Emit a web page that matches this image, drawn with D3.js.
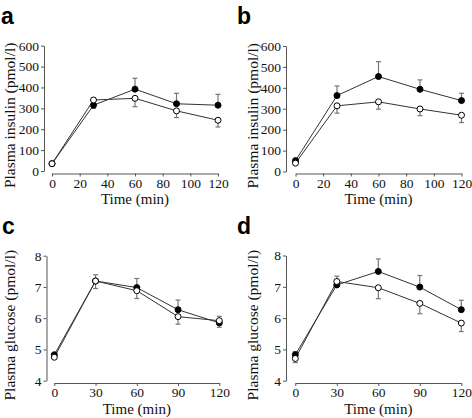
<!DOCTYPE html>
<html><head><meta charset="utf-8">
<script src="https://cdn.jsdelivr.net/npm/d3@7"></script>
<style>
body{margin:0;background:#fff}svg{display:block}
.serif{font-family:"Liberation Serif","Times New Roman",Times,serif}
.sans{font-family:"Liberation Sans",Arial,Helvetica,sans-serif}
</style>
</head><body>
<script>
// ---- data ----
const timesInsulin = [0, 30, 60, 90, 120];
const timesGlucose = [0, 30, 60, 90, 120];
const insulinTicksX = [0, 20, 40, 60, 80, 100, 120];
const glucoseTicksX = [0, 30, 60, 90, 120];
const insulinTicksY = [0, 100, 200, 300, 400, 500, 600];
const glucoseTicksY = [4, 5, 6, 7, 8];

// panel a
const aFilled    = [35, 315, 392, 322, 315];
const aFilledErr = [0, -15, 52, 50, 52];
const aOpen      = [35, 340, 348, 288, 243];
const aOpenErr   = [0, 8, -40, -32, -32];
// panel b
const bFilled    = [52, 363, 454, 393, 339];
const bFilledErr = [0, 46, 71, 45, 35];
const bOpen      = [40, 314, 333, 299, 269];
const bOpenErr   = [0, -35, -35, -32, -35];
// panel c
const cFilled    = [4.83, 7.19, 6.98, 6.27, 5.85];
const cFilledErr = [0, 0.2, 0.29, 0.31, -0.14];
const cOpen      = [4.75, 7.19, 6.88, 6.05, 5.92];
const cOpenErr   = [0, -0.24, -0.25, -0.24, 0.14];
// panel d
const dFilled    = [4.83, 7.06, 7.49, 6.99, 6.27];
const dFilledErr = [0.1, 0, 0.4, 0.37, 0.3];
const dOpen      = [4.71, 7.17, 6.97, 6.47, 5.84];
const dOpenErr   = [-0.13, 0.17, -0.35, -0.33, -0.27];

const panelLetters = ["a", "b", "c", "d"];
const xTitle = "Time (min)";
const yTitleInsulin = "Plasma insulin (pmol/l)";
const yTitleGlucose = "Plasma glucose (pmol/l)";

// ---- layout ----
const W = 472, H = 418;
const svg = d3.select("body").append("svg").attr("width", W).attr("height", H);

const panels = [
  {letter: panelLetters[0], lx: 1, ly: 24, yAxisX: 44, x0: 52, x1: 218, yTop: 45.7, yBot: 171, xAxisY: 173.5,
   xDom: [0,120], yDom: [0,600], xt: insulinTicksX, yt: insulinTicksY, t: timesInsulin,
   f: aFilled, fe: aFilledErr, o: aOpen, oe: aOpenErr, ytitle: yTitleInsulin, ytx: 10, titleY: 204},
  {letter: panelLetters[1], lx: 237, ly: 24, yAxisX: 286, x0: 295.5, x1: 461.5, yTop: 46, yBot: 171.5, xAxisY: 173.5,
   xDom: [0,120], yDom: [0,600], xt: insulinTicksX, yt: insulinTicksY, t: timesInsulin,
   f: bFilled, fe: bFilledErr, o: bOpen, oe: bOpenErr, ytitle: yTitleInsulin, ytx: 253, titleY: 204},
  {letter: panelLetters[2], lx: 2, ly: 234, yAxisX: 46.5, x0: 54.3, x1: 219.3, yTop: 255.7, yBot: 380.7, xAxisY: 383,
   xDom: [0,120], yDom: [4,8], xt: glucoseTicksX, yt: glucoseTicksY, t: timesGlucose,
   f: cFilled, fe: cFilledErr, o: cOpen, oe: cOpenErr, ytitle: yTitleGlucose, ytx: 10, titleY: 413.5},
  {letter: panelLetters[3], lx: 237, ly: 234, yAxisX: 286, x0: 295.3, x1: 461.3, yTop: 255.5, yBot: 380.7, xAxisY: 383,
   xDom: [0,120], yDom: [4,8], xt: glucoseTicksX, yt: glucoseTicksY, t: timesGlucose,
   f: dFilled, fe: dFilledErr, o: dOpen, oe: dOpenErr, ytitle: yTitleGlucose, ytx: 253, titleY: 413.5}
];

const axisColor = "#555";

panels.forEach(p => {
  const g = svg.append("g");
  const x = d3.scaleLinear().domain(p.xDom).range([p.x0, p.x1]);
  const y = d3.scaleLinear().domain(p.yDom).range([p.yBot, p.yTop]);

  // panel letter
  g.append("text").attr("class", "sans").attr("x", p.lx).attr("y", p.ly)
    .attr("font-weight", "bold").attr("font-size", 23).attr("fill", "#000").text(p.letter);

  // y axis
  const ya = g.append("g").attr("transform", `translate(${p.yAxisX},0)`)
    .call(d3.axisLeft(y).tickValues(p.yt).tickFormat(d3.format("d")).tickSize(3).tickPadding(2).tickSizeOuter(0));
  ya.attr("font-family", null).attr("class", "serif");
  ya.select(".domain").attr("stroke", axisColor);
  ya.selectAll(".tick line").attr("stroke", axisColor);
  ya.selectAll("text").attr("class", "serif").attr("font-size", 13.5).attr("fill", "#111");

  // x axis
  const xa = g.append("g").attr("transform", `translate(0,${p.xAxisY})`)
    .call(d3.axisBottom(x).tickValues(p.xt).tickFormat(d3.format("d")).tickSize(3).tickPadding(1.5).tickSizeOuter(0));
  xa.attr("font-family", null).attr("class", "serif");
  xa.select(".domain").attr("stroke", axisColor);
  xa.selectAll(".tick line").attr("stroke", axisColor);
  xa.selectAll("text").attr("class", "serif").attr("font-size", 13.5).attr("fill", "#111");

  // titles
  g.append("text").attr("class", "serif").attr("x", (p.x0 + p.x1) / 2).attr("y", p.titleY)
    .attr("text-anchor", "middle").attr("font-size", 15)
    .attr("fill", "#111").text(xTitle);
  g.append("text").attr("class", "serif")
    .attr("transform", `translate(${p.ytx + 5},${(p.yTop + p.yBot) / 2 + 7}) rotate(-90)`)
    .attr("text-anchor", "middle").attr("font-size", 15.5)
    .attr("fill", "#111").text(p.ytitle);

  const line = d3.line().x((d, i) => x(p.t[i])).y(d => y(d));
  const series = [
    {v: p.f, e: p.fe, fill: "#000"},
    {v: p.o, e: p.oe, fill: "#fff"}
  ];
  // error bars
  series.forEach(s => {
    s.v.forEach((v, i) => {
      if (!s.e[i]) return;
      const cx = x(p.t[i]), y0 = y(v), y1 = y(v + s.e[i]);
      g.append("line").attr("x1", cx).attr("x2", cx).attr("y1", y0).attr("y2", y1)
        .attr("stroke", "#777").attr("stroke-width", 1.2);
      g.append("line").attr("x1", cx - 2.5).attr("x2", cx + 2.5).attr("y1", y1).attr("y2", y1)
        .attr("stroke", "#777").attr("stroke-width", 1.2);
    });
  });
  // lines
  series.forEach(s => {
    g.append("path").datum(s.v).attr("d", line).attr("fill", "none")
      .attr("stroke", "#333").attr("stroke-width", 1);
  });
  // markers
  series.forEach(s => {
    g.selectAll(null).data(s.v).enter().append("circle")
      .attr("cx", (d, i) => x(p.t[i])).attr("cy", d => y(d)).attr("r", 3)
      .attr("fill", s.fill).attr("stroke", "#000").attr("stroke-width", 1);
  });
});
</script>
</body></html>
